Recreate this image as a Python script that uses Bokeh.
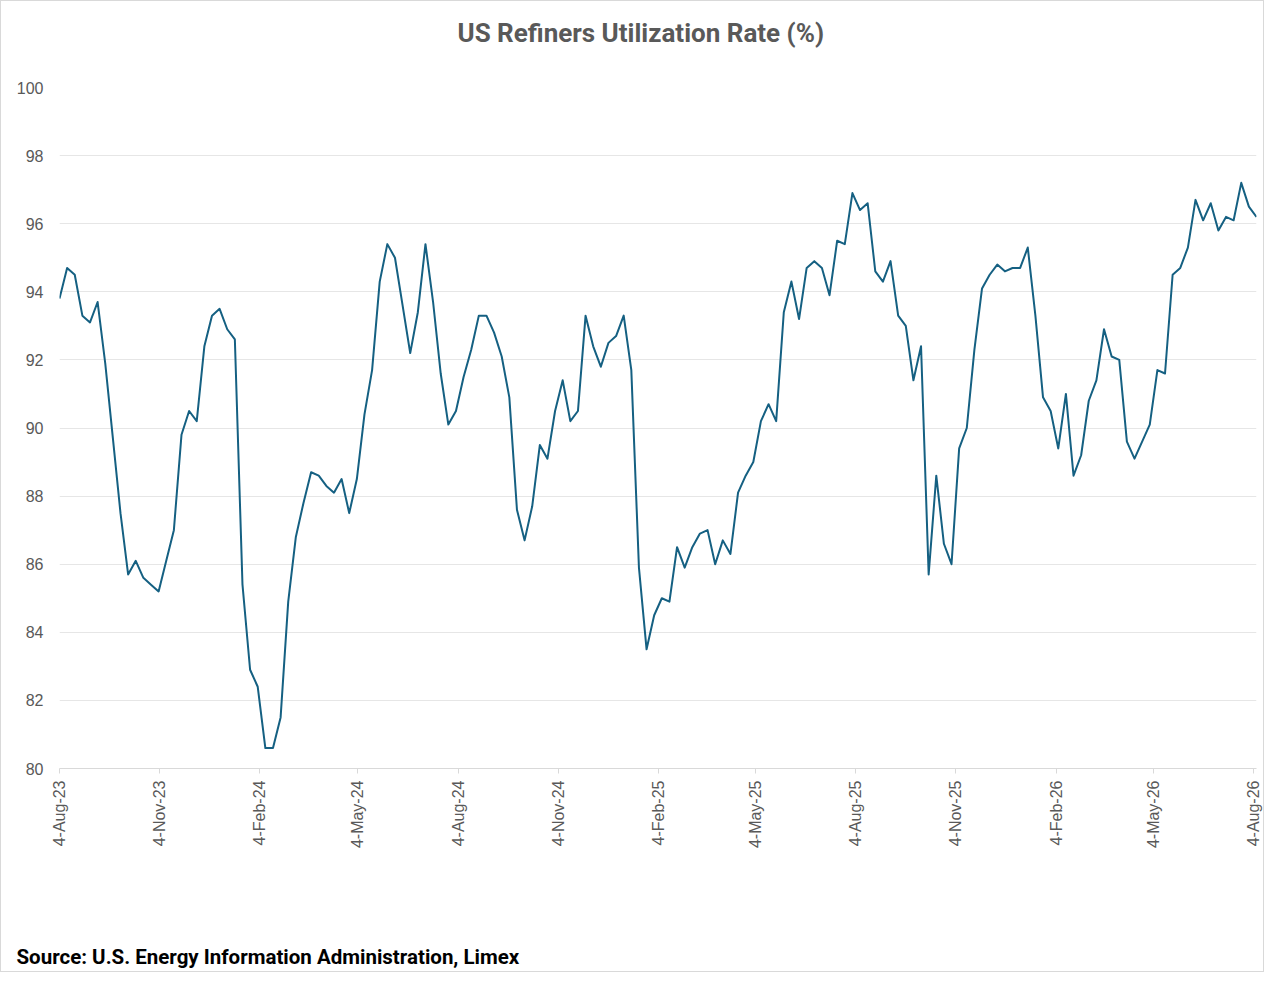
import math
import pandas as pd
from bokeh.plotting import figure
from bokeh.models import Range1d, FixedTicker, Title, ColumnDataSource
from bokeh.embed import file_html
from bokeh.resources import INLINE

# ---------------- data ----------------
start_date = "2023-08-04"
utilization = [
    93.8, 94.7, 94.5, 93.3, 93.1, 93.7, 91.9, 89.7, 87.5, 85.7,
    86.1, 85.6, 85.4, 85.2, 86.1, 87.0, 89.8, 90.5, 90.2, 92.4,
    93.3, 93.5, 92.9, 92.6, 85.4, 82.9, 82.4, 80.6, 80.6, 81.5,
    84.9, 86.8, 87.8, 88.7, 88.6, 88.3, 88.1, 88.5, 87.5, 88.5,
    90.4, 91.7, 94.3, 95.4, 95.0, 93.6, 92.2, 93.4, 95.4, 93.7,
    91.6, 90.1, 90.5, 91.5, 92.3, 93.3, 93.3, 92.8, 92.1, 90.9,
    87.6, 86.7, 87.7, 89.5, 89.1, 90.5, 91.4, 90.2, 90.5, 93.3,
    92.4, 91.8, 92.5, 92.7, 93.3, 91.7, 85.9, 83.5, 84.5, 85.0,
    84.9, 86.5, 85.9, 86.5, 86.9, 87.0, 86.0, 86.7, 86.3, 88.1,
    88.6, 89.0, 90.2, 90.7, 90.2, 93.4, 94.3, 93.2, 94.7, 94.9,
    94.7, 93.9, 95.5, 95.4, 96.9, 96.4, 96.6, 94.6, 94.3, 94.9,
    93.3, 93.0, 91.4, 92.4, 85.7, 88.6, 86.6, 86.0, 89.4, 90.0,
    92.3, 94.1, 94.5, 94.8, 94.6, 94.7, 94.7, 95.3, 93.3, 90.9,
    90.5, 89.4, 91.0, 88.6, 89.2, 90.8, 91.4, 92.9, 92.1, 92.0,
    89.6, 89.1, 89.6, 90.1, 91.7, 91.6, 94.5, 94.7, 95.3, 96.7,
    96.1, 96.6, 95.8, 96.2, 96.1, 97.2, 96.5, 96.2,
]
week_dates = pd.date_range(start_date, periods=len(utilization), freq="7D")

tick_dates = [
    "2023-08-04", "2023-11-04", "2024-02-04", "2024-05-04", "2024-08-04",
    "2024-11-04", "2025-02-04", "2025-05-04", "2025-08-04", "2025-11-04",
    "2026-02-04", "2026-05-04", "2026-08-04",
]
tick_labels = [
    "4-Aug-23", "4-Nov-23", "4-Feb-24", "4-May-24", "4-Aug-24",
    "4-Nov-24", "4-Feb-25", "4-May-25", "4-Aug-25", "4-Nov-25",
    "4-Feb-26", "4-May-26", "4-Aug-26",
]
y_ticks = [80, 82, 84, 86, 88, 90, 92, 94, 96, 98, 100]

title_text = "US Refiners Utilization Rate (%)"
source_text = "Source: U.S. Energy Information Administration, Limex"

# ---------------- figure ----------------
def ms(d):
    return float(pd.Timestamp(d).value // 10**6)

x_ms = [ms(d) for d in week_dates]
src = ColumnDataSource(dict(x=x_ms, y=utilization))

p = figure(
    width=1264, height=972,
    x_axis_type="datetime",
    x_range=Range1d(x_ms[0], x_ms[-1]),
    y_range=Range1d(80, 100),
    output_backend="svg",
    toolbar_location=None,
    min_border_left=58, min_border_right=9,
    min_border_top=86, min_border_bottom=205,
)
p.styles = {"border": "1px solid #d9d9d9"}
p.outline_line_color = None
p.background_fill_color = "white"
p.border_fill_color = "white"

p.line("x", "y", source=src, line_color="#156082", line_width=2, line_join="round")

# grid
p.xgrid.visible = False
p.ygrid.grid_line_color = "#e6e6e6"
p.ygrid.grid_line_width = 1

# x axis
tick_ms = [ms(d) for d in tick_dates]
p.xaxis.ticker = FixedTicker(ticks=tick_ms)
p.xaxis.major_label_overrides = {t: lab for t, lab in zip(tick_ms, tick_labels)}
p.xaxis.major_label_orientation = math.pi / 2
p.xaxis.axis_line_color = "#d9d9d9"
p.xaxis.major_tick_line_color = "#d9d9d9"
p.xaxis.major_tick_out = 5
p.xaxis.major_tick_in = 0
p.xaxis.minor_tick_line_color = None
p.xaxis.major_label_standoff = 7
p.xaxis.major_label_text_font = "Liberation Sans"
p.xaxis.major_label_text_font_size = "16px"
p.xaxis.major_label_text_color = "#595959"

# y axis
p.yaxis.ticker = FixedTicker(ticks=y_ticks)
p.yaxis.axis_line_color = None
p.yaxis.major_tick_line_color = None
p.yaxis.minor_tick_line_color = None
p.yaxis.major_tick_out = 0
p.yaxis.major_tick_in = 0
p.yaxis.major_label_standoff = 16
p.yaxis.major_label_text_font = "Liberation Sans"
p.yaxis.major_label_text_font_size = "16px"
p.yaxis.major_label_text_color = "#595959"

# spacer between frame and main title (closest to frame)
p.add_layout(Title(text=" ", text_font_size="10px", standoff=22), "above")

# main title (outermost above)
p.title.text = title_text
p.title.align = "left"
p.title.offset = 398
p.title.text_font = "Roboto"
p.title.text_font_style = "bold"
p.title.text_font_size = "26px"
p.title.text_color = "#595959"
p.title.standoff = 10

# spacer below the axis, then the source line
p.add_layout(Title(text=" ", text_font_size="10px", standoff=75), "below")
p.add_layout(Title(
    text=source_text, align="left", offset=-43,
    text_font="Roboto", text_font_style="bold",
    text_font_size="20.5px", text_color="#000000", standoff=6,
), "below")

open("out.html", "w").write(file_html(p, INLINE))
